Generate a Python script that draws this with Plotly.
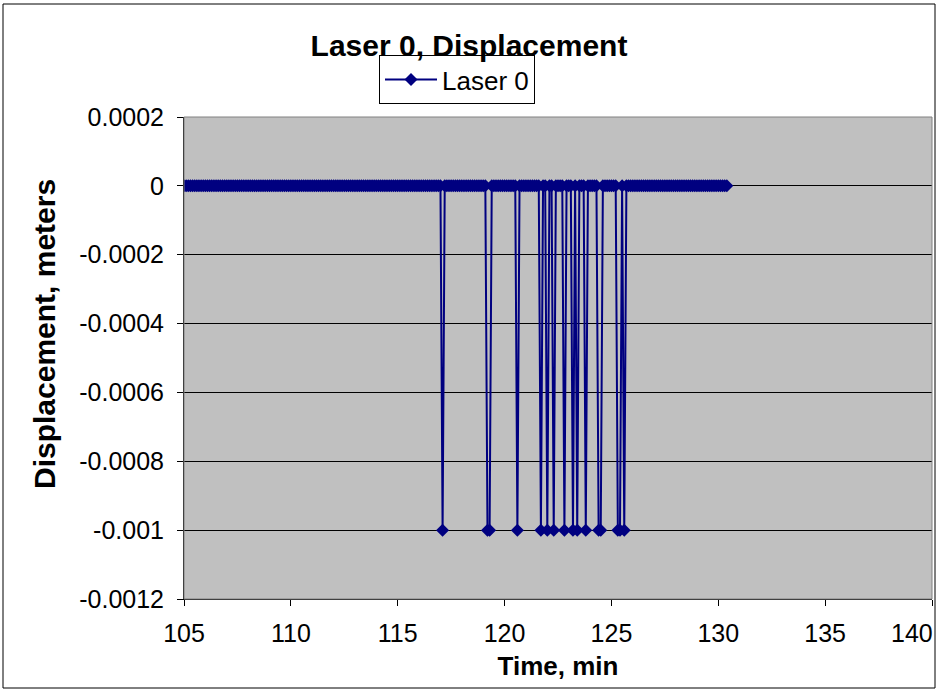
import plotly.graph_objects as go

# Sample times (minutes), one reading every 0.1 min
time_min = [
    105.0, 105.1, 105.2, 105.3, 105.4, 105.5, 105.6, 105.7, 105.8, 105.9,
    106.0, 106.1, 106.2, 106.3, 106.4, 106.5, 106.6, 106.7, 106.8, 106.9,
    107.0, 107.1, 107.2, 107.3, 107.4, 107.5, 107.6, 107.7, 107.8, 107.9,
    108.0, 108.1, 108.2, 108.3, 108.4, 108.5, 108.6, 108.7, 108.8, 108.9,
    109.0, 109.1, 109.2, 109.3, 109.4, 109.5, 109.6, 109.7, 109.8, 109.9,
    110.0, 110.1, 110.2, 110.3, 110.4, 110.5, 110.6, 110.7, 110.8, 110.9,
    111.0, 111.1, 111.2, 111.3, 111.4, 111.5, 111.6, 111.7, 111.8, 111.9,
    112.0, 112.1, 112.2, 112.3, 112.4, 112.5, 112.6, 112.7, 112.8, 112.9,
    113.0, 113.1, 113.2, 113.3, 113.4, 113.5, 113.6, 113.7, 113.8, 113.9,
    114.0, 114.1, 114.2, 114.3, 114.4, 114.5, 114.6, 114.7, 114.8, 114.9,
    115.0, 115.1, 115.2, 115.3, 115.4, 115.5, 115.6, 115.7, 115.8, 115.9,
    116.0, 116.1, 116.2, 116.3, 116.4, 116.5, 116.6, 116.7, 116.8, 116.9,
    117.0, 117.1, 117.2, 117.3, 117.4, 117.5, 117.6, 117.7, 117.8, 117.9,
    118.0, 118.1, 118.2, 118.3, 118.4, 118.5, 118.6, 118.7, 118.8, 118.9,
    119.0, 119.1, 119.2, 119.3, 119.4, 119.5, 119.6, 119.7, 119.8, 119.9,
    120.0, 120.1, 120.2, 120.3, 120.4, 120.5, 120.6, 120.7, 120.8, 120.9,
    121.0, 121.1, 121.2, 121.3, 121.4, 121.5, 121.6, 121.7, 121.8, 121.9,
    122.0, 122.1, 122.2, 122.3, 122.4, 122.5, 122.6, 122.7, 122.8, 122.9,
    123.0, 123.1, 123.2, 123.3, 123.4, 123.5, 123.6, 123.7, 123.8, 123.9,
    124.0, 124.1, 124.2, 124.3, 124.4, 124.5, 124.6, 124.7, 124.8, 124.9,
    125.0, 125.1, 125.2, 125.3, 125.4, 125.5, 125.6, 125.7, 125.8, 125.9,
    126.0, 126.1, 126.2, 126.3, 126.4, 126.5, 126.6, 126.7, 126.8, 126.9,
    127.0, 127.1, 127.2, 127.3, 127.4, 127.5, 127.6, 127.7, 127.8, 127.9,
    128.0, 128.1, 128.2, 128.3, 128.4, 128.5, 128.6, 128.7, 128.8, 128.9,
    129.0, 129.1, 129.2, 129.3, 129.4, 129.5, 129.6, 129.7, 129.8, 129.9,
    130.0, 130.1, 130.2, 130.3, 130.4,
]

# Readings that dropped to -0.001 m (times in minutes)
dip_times = [117.1, 119.2, 119.3, 120.6, 121.7, 122.0, 122.3, 122.8, 123.2,
             123.4, 123.8, 124.4, 124.5, 125.3, 125.4, 125.6]
dip_value = -0.001
base_value = 0.0

displacement_m = [dip_value if round(t, 1) in dip_times else base_value for t in time_min]

x_ticks = [105, 110, 115, 120, 125, 130, 135, 140]
x_tick_labels = ["105", "110", "115", "120", "125", "130", "135", "140"]
y_ticks = [0.0002, 0, -0.0002, -0.0004, -0.0006, -0.0008, -0.001, -0.0012]
y_tick_labels = ["0.0002", "0", "-0.0002", "-0.0004", "-0.0006", "-0.0008", "-0.001", "-0.0012"]

FONT = "Liberation Sans, Arial, sans-serif"
NAVY = "#000080"

fig = go.Figure()
fig.add_trace(go.Scatter(
    x=time_min, y=displacement_m, mode="lines+markers", name="Laser 0",
    line=dict(color=NAVY, width=2),
    marker=dict(symbol="diamond", size=10, color=NAVY, line=dict(width=0)),
))

W, H = 938, 689
L, R, T, B = 184, 6, 117, 90
pw, ph = W - L - R, H - T - B

def px2x(px):
    return (px - L) / pw

def py2y(py):
    return (H - B - py) / ph

# last x tick label would overflow the page; draw it right-aligned as Excel does
shown_x_labels = x_tick_labels[:-1] + [""]

fig.update_layout(
    width=W, height=H,
    margin=dict(l=L, r=R, t=T, b=B),
    paper_bgcolor="white", plot_bgcolor="#C0C0C0",
    font=dict(family=FONT, size=25, color="black"),
    title=dict(text="<b>Laser 0, Displacement</b>", x=0.5, xanchor="center",
               y=1 - 45 / H, yanchor="middle", font=dict(size=30, family=FONT)),
    showlegend=True,
    legend=dict(x=px2x(457), xanchor="center", y=py2y(55), yanchor="top",
                bgcolor="white", bordercolor="black", borderwidth=1,
                font=dict(size=26, family=FONT), itemwidth=52,
                tracegroupgap=0),
    xaxis=dict(range=[105, 140], tickvals=x_ticks, ticktext=shown_x_labels,
               ticks="outside", ticklen=6,
               tickcolor="black", showline=True, linecolor="black", linewidth=1,
               showgrid=False, zeroline=False, ticklabelstandoff=6,
               tickfont=dict(size=25),
               title=dict(text="<b>Time, min</b>", font=dict(size=26), standoff=10)),
    yaxis=dict(range=[-0.0012, 0.0002], tickvals=y_ticks, ticktext=y_tick_labels,
               ticks="outside", ticklen=6, tickcolor="black",
               showline=True, linecolor="black", linewidth=1, ticklabelstandoff=8,
               showgrid=True, gridcolor="black", gridwidth=1, zeroline=False,
               tickfont=dict(size=25)),
)

fig.add_annotation(text=x_tick_labels[-1], x=x_ticks[-1], xref="x", y=0, yref="paper",
                   xanchor="right", yanchor="top", yshift=-18, xshift=3, showarrow=False,
                   font=dict(size=25, family=FONT))
fig.add_annotation(text="<b>Displacement, meters</b>", textangle=-90,
                   x=px2x(44), xref="paper", y=py2y(334), yref="paper",
                   xanchor="center", yanchor="middle", showarrow=False,
                   font=dict(size=30, family=FONT))

# plot-area frame (grey) and outer chart border (black)
fig.add_shape(type="rect", xref="paper", yref="paper", x0=0, x1=1, y0=0, y1=1,
              line=dict(color="#808080", width=1), layer="above")
fig.add_shape(type="rect", xref="paper", yref="paper",
              x0=px2x(3), x1=px2x(935), y0=py2y(688), y1=py2y(4),
              line=dict(color="black", width=1))

fig.write_html("out.html", config={"displayModeBar": False},
               post_script="document.body.style.margin='0px';")
